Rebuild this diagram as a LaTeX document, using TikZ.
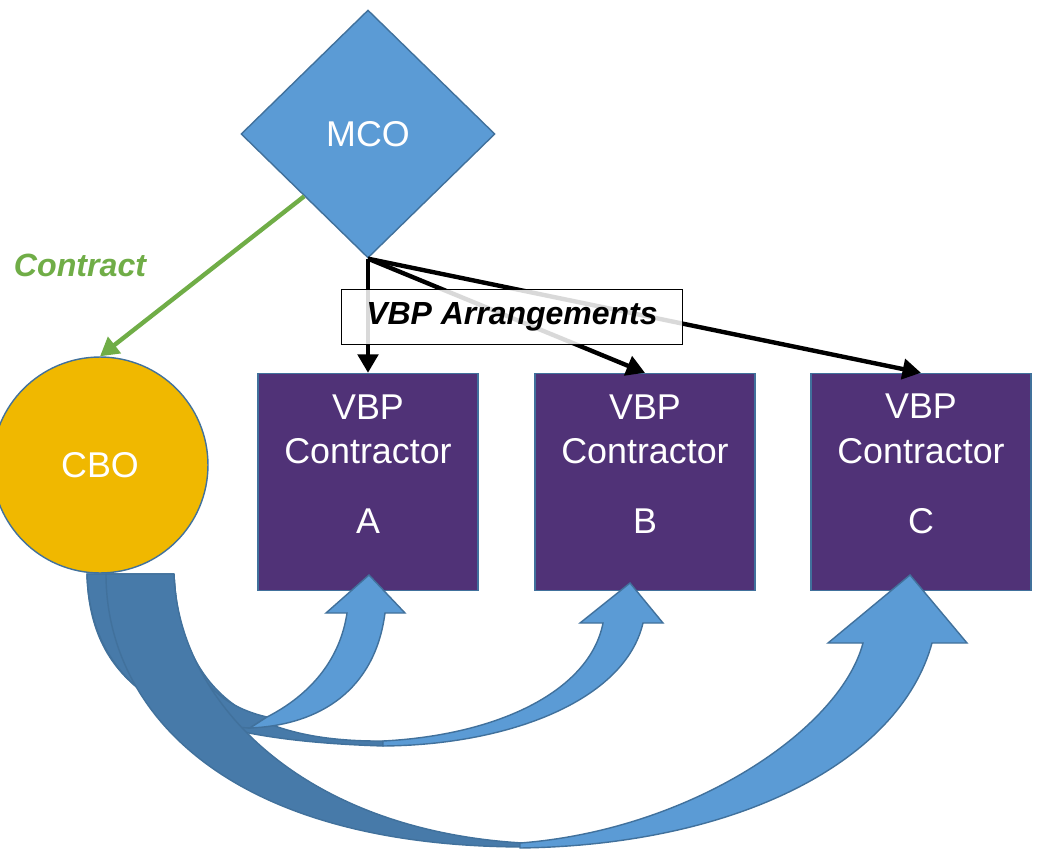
\documentclass[tikz,border=0pt]{standalone}
\usepackage{fontspec}
\setmainfont{Liberation Sans}
\usetikzlibrary{shapes.geometric,arrows.meta}
\definecolor{mcoblue}{HTML}{5B9BD5}
\definecolor{edgeblue}{HTML}{41719C}
\definecolor{backblue}{HTML}{477AA9}
\definecolor{cbogold}{HTML}{F0B800}
\definecolor{vbppurple}{HTML}{503277}
\definecolor{contractgreen}{HTML}{70AD47}
\tikzset{
  vbpbox/.style={draw=edgeblue,line width=0.8pt,fill=vbppurple,minimum width=4.4cm,minimum height=4.34cm,inner sep=0pt},
  boxtext/.style={text=white,align=center,inner sep=0pt,font=\fontsize{20.4}{25.5}\selectfont},
  backface/.style={fill=backblue,draw=edgeblue,line width=0.8pt,line join=round},
  frontface/.style={fill=mcoblue,draw=edgeblue,line width=0.8pt},
  linkarrow/.style={line width=2.5pt,-{Triangle[length=10.5pt,width=11.5pt]}},
}
\begin{document}
\begin{tikzpicture}[x=0.02cm,y=-0.02cm]
\useasboundingbox (0,0) rectangle (1037,851);
\node[diamond,draw=edgeblue,line width=0.8pt,fill=mcoblue,minimum width=5.08cm,minimum height=4.96cm,inner sep=0pt,text=white,font=\fontsize{20.4}{24}\selectfont] (mco) at (368,134) {MCO};
\node[circle,draw=edgeblue,line width=0.8pt,fill=cbogold,minimum size=4.32cm,inner sep=0pt,text=white,font=\fontsize{20.4}{24}\selectfont] (cbo) at (100,465) {CBO};
\node[vbpbox] (boxa) at (368,482) {};
\node[vbpbox] (boxb) at (645,482) {};
\node[vbpbox] (boxc) at (921,482) {};
\node[boxtext] (txta) at ([yshift=0.36cm]boxa.center) {VBP\\Contractor\\[14.2pt]A};
\node[boxtext] (txtb) at ([yshift=0.36cm]boxb.center) {VBP\\Contractor\\[14.2pt]B};
\node[boxtext] (txtc) at ([yshift=0.36cm]boxc.center) {VBP\\Contractor\\[14.2pt]C};
\draw[backface] (87,574) .. controls (90,700) and (190,740) .. (383,746) -- (383,741) .. controls (260,742) and (180,700) .. (174,574) -- cycle;
\draw[frontface] (383,741) .. controls (500,735) and (590,690) .. (603,623) -- (580,623) -- (630,583) -- (663,623) -- (643,623) .. controls (625,700) and (510,745) .. (383,746) -- cycle;
\draw[backface] (87,574) .. controls (90,680) and (170,725) .. (250,728) -- (267,717) .. controls (215,705) and (178,670) .. (174,574) -- cycle;
\draw[frontface] (267,717) .. controls (310,695) and (340,660) .. (347,613) -- (326,613) -- (369,575) -- (405,613) -- (385,613) .. controls (375,690) and (320,725) .. (250,728) -- cycle;
\draw[backface] (106,574) .. controls (106,710) and (225,846) .. (523,847) -- (523,843) .. controls (300,830) and (178,700) .. (174,574) -- cycle;
\draw[frontface] (520,843) .. controls (690,830) and (840,730) .. (863,643) -- (828,643) -- (910,575) -- (967,643) -- (932,643) .. controls (900,760) and (740,845) .. (520,848) -- cycle;
\draw[linkarrow,contractgreen] (mco.south west) -- (cbo.north);
\node[text=contractgreen,font=\fontsize{18.3}{22}\selectfont\bfseries\itshape] (contract) at (80,265) {Contract};
\draw[linkarrow] (mco.south) -- (boxa.north);
\draw[linkarrow] (mco.south) -- (boxb.north);
\draw[linkarrow] (mco.south) -- (boxc.north);
\node[draw,line width=0.8pt,fill=white,fill opacity=0.85,text opacity=1,minimum width=6.82cm,minimum height=1.1cm,font=\fontsize{18.2}{22}\selectfont\bfseries\itshape] (arrangements) at (512,317) {VBP Arrangements};
\end{tikzpicture}
\end{document}
